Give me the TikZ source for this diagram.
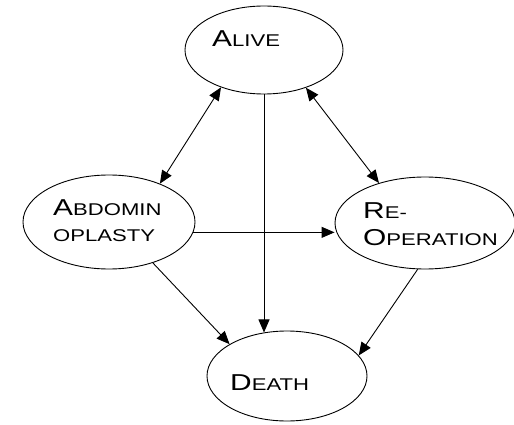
\documentclass[tikz,border=0pt]{standalone}
\usepackage{fontspec}
\newfontfamily\widesans[FakeStretch=1.3]{Liberation Sans}
\usetikzlibrary{shapes.geometric,arrows.meta}
\newcommand{\capbig}[1]{{\fontsize{23}{25}\selectfont #1}}
\newcommand{\capsmall}[1]{{\fontsize{17}{19}\selectfont #1}}
\tikzset{
  state/.style={draw=black, line width=0.9pt, ellipse, inner sep=0pt},
  lbl/.style={font=\widesans, anchor=base west, inner sep=0pt, align=left},
  conn/.style={line width=0.9pt, -{Triangle[length=13pt,width=11pt]}},
  bconn/.style={line width=0.9pt, {Triangle[length=13pt,width=11pt]}-{Triangle[length=13pt,width=11pt]}}
}
\begin{document}
\begin{tikzpicture}[x=1pt,y=-1pt]
\useasboundingbox (0,0) rectangle (514,425);
\node[state, minimum width=158pt, minimum height=88pt] (alive) at (264,50) {};
\node[state, minimum width=172pt, minimum height=94pt] (abd) at (109,222) {};
\node[state, minimum width=180pt, minimum height=92pt] (reop) at (425,223) {};
\node[state, minimum width=160pt, minimum height=90pt] (death) at (287,376) {};

\node[lbl] (talive) at (212,47) {\capbig{A}\capsmall{LIVE}};
\node[lbl] (tabd1) at (53,215) {\capbig{A}\capsmall{BDOMIN}};
\node[lbl] (tabd2) at (53,241) {\capsmall{OPLASTY}};
\node[lbl] (treo1) at (363,218) {\capbig{R}\capsmall{E-}};
\node[lbl] (treo2) at (363,245) {\capbig{O}\capsmall{PERATION}};
\node[lbl] (tdeath) at (230,390) {\capbig{D}\capsmall{EATH}};

\draw[bconn] (alive.221) -- (abd.37);
\draw[bconn] (alive.318) -- (reop.139);
\draw[conn] (alive.south) -- (alive.south |- death.118);
\draw[conn] (abd.-7) -- (abd.-7 -| reop.west);
\draw[conn] (abd.-43) -- (death.151);
\draw[conn] (reop.261) -- (death.16);
\end{tikzpicture}
\end{document}
